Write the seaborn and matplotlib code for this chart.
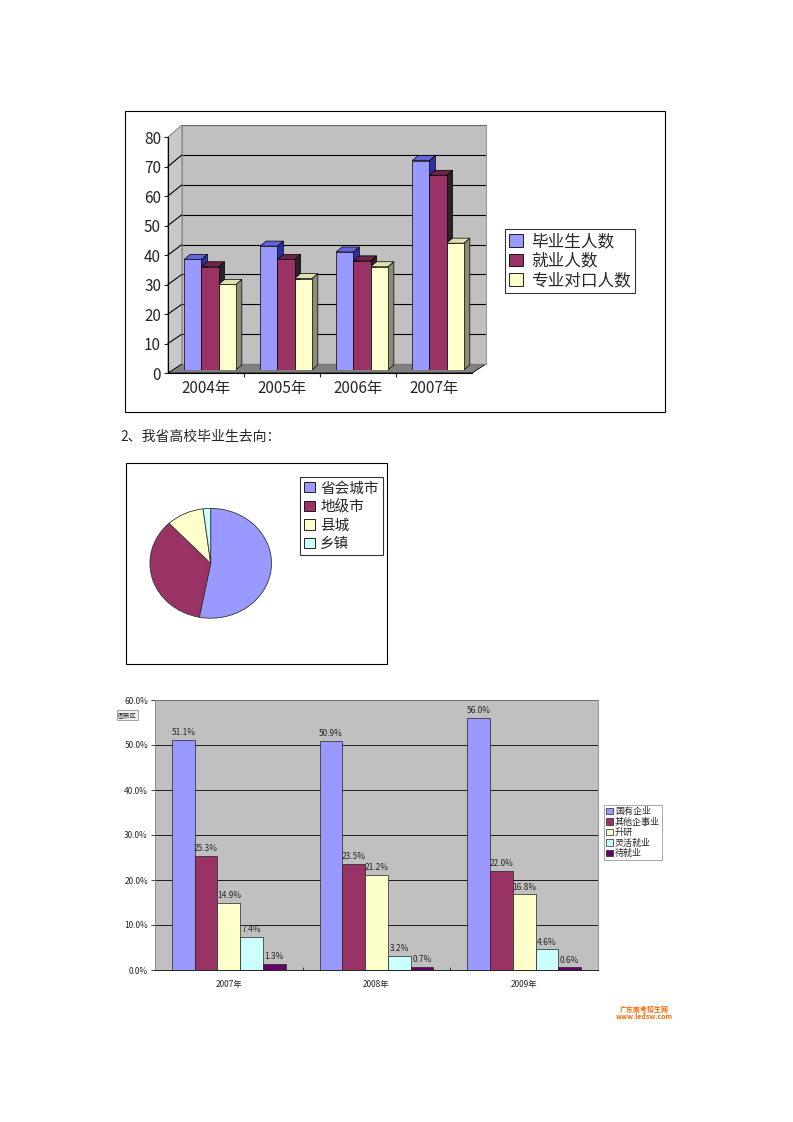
import matplotlib
matplotlib.use('Agg')
import matplotlib.pyplot as plt
from matplotlib.patches import Polygon, Rectangle, Patch
import pandas as pd
import seaborn as sns

# chart 1: graduates / employed / matched, by year
years1 = ['2004年', '2005年', '2006年', '2007年']
series1 = ['毕业生人数', '就业人数', '专业对口人数']
grad = [37.5, 42, 40, 71]
employed = [35, 37.5, 37, 66]
matched = [29, 31, 35, 43]

# chart 2: where graduates go
pie_labels = ['省会城市', '地级市', '县城', '乡镇']
pie_vals = [53, 35, 10, 2]

# chart 3: destination shares (%)
years3 = ['2007年', '2008年', '2009年']
series3 = ['国有企业', '其他企事业', '升研', '灵活就业', '待就业']
state = [51.1, 50.9, 56.0]
other = [25.3, 23.5, 22.0]
study = [14.9, 21.2, 16.8]
flex = [7.4, 3.2, 4.6]
wait = [1.3, 0.7, 0.6]

colors1 = ['#9999FF', '#993366', '#FFFFCC']
tops1 = ['#6464D8', '#6E2448', '#E2E2AE']
sides1 = ['#2E2EA0', '#2A2226', '#8C8C78']
colors2 = ['#9999FF', '#993366', '#FFFFCC', '#CCFFFF']
colors3 = ['#9999FF', '#993366', '#FFFFCC', '#CCFFFF', '#660066']

W, H = 793, 1122
sns.set_theme(style='white')
plt.rcParams['font.family'] = ['Noto Sans CJK SC', 'DejaVu Sans']
plt.rcParams['axes.unicode_minus'] = False

fig = plt.figure(figsize=(W / 100, H / 100), dpi=100)


def box(x0, y0, x1, y1):
    return [x0 / W, 1 - y1 / H, (x1 - x0) / W, (y1 - y0) / H]


# page-level layer in pixel coords
bg = fig.add_axes([0, 0, 1, 1])
bg.set_xlim(0, W)
bg.set_ylim(H, 0)
bg.axis('off')
bg.set_zorder(-5)

# ---------------- chart 1 ----------------
bg.add_patch(Rectangle((125, 111), 540, 301, fill=False, ec='black', lw=0.8))

axb = fig.add_axes(box(182, 125, 486, 364))
axb.set_facecolor('#C0C0C0')
axb.set_xlim(0, 1)
axb.set_ylim(0, 80)
axb.set_yticks(range(0, 81, 10))
axb.set_xticks([])
axb.tick_params(left=False, labelleft=False)
axb.grid(axis='y', color='black', lw=0.8)
for s in axb.spines.values():
    s.set_color('#808080')
    s.set_linewidth(0.6)

# side wall and floor
bg.add_patch(Polygon([(168, 137), (182, 125), (182, 364), (168, 373)],
                     fc='#C8C8C8', ec='#707070', lw=0.6))
for v in range(10, 80, 10):
    bg.plot([168, 182], [373 - v * 236 / 80, 364 - v * 239 / 80], color='black', lw=0.8)
bg.add_patch(Polygon([(168, 373), (472, 373), (486, 364), (182, 364)],
                     fc='#808080', ec='black', lw=0.6))

df1 = pd.DataFrame({'year': years1, series1[0]: grad, series1[1]: employed, series1[2]: matched})
df1 = df1.melt(id_vars='year', var_name='series', value_name='value')

axr = fig.add_axes(box(172, 134, 476, 370))
sns.barplot(data=df1, x='year', y='value', hue='series', hue_order=series1,
            palette=colors1, width=0.68, edgecolor='black', linewidth=0.5,
            saturation=1, legend=False, ax=axr)
axr.set_xlim(-0.5, 3.5)
axr.set_ylim(0, 80)
axr.axis('off')
axr.set_zorder(1)

dx = 6 / 76
dy = 5 / (236 / 80)
for cont, tc, sc in zip(axr.containers, tops1, sides1):
    for bar in cont:
        x0, w, h = bar.get_x(), bar.get_width(), bar.get_height()
        axr.add_patch(Polygon([(x0 + w, 0), (x0 + w + dx, dy), (x0 + w + dx, h + dy), (x0 + w, h)],
                              fc=sc, ec='black', lw=0.5, zorder=0.8, clip_on=False))
        axr.add_patch(Polygon([(x0, h), (x0 + w, h), (x0 + w + dx, h + dy), (x0 + dx, h + dy)],
                              fc=tc, ec='black', lw=0.5, zorder=0.8, clip_on=False))

axf = fig.add_axes(box(168, 137, 472, 373))
axf.patch.set_alpha(0)
axf.set_xlim(-0.5, 3.5)
axf.set_ylim(0, 80)
axf.set_yticks(range(0, 81, 10))
axf.set_xticks(range(4))
axf.set_xticklabels(years1)
axf.set_xticks([0.5, 1.5, 2.5], minor=True)
axf.tick_params(axis='x', which='major', length=0, pad=5, labelsize=11)
axf.tick_params(axis='x', which='minor', length=3, width=0.8, direction='out', bottom=True)
axf.tick_params(axis='y', length=3, width=0.8, direction='out', left=True, pad=2, labelsize=11)
axf.spines['top'].set_visible(False)
axf.spines['right'].set_visible(False)
for s in ['left', 'bottom']:
    axf.spines[s].set_color('black')
    axf.spines[s].set_linewidth(0.8)
axf.set_zorder(2)

leg1 = fig.legend(handles=[Patch(fc=c, ec='black', lw=0.6) for c in colors1], labels=series1,
                  loc='upper left', bbox_to_anchor=(505 / W, 1 - 229 / H), fontsize=12,
                  frameon=True, fancybox=False, edgecolor='black', borderaxespad=0,
                  handlelength=0.8, handleheight=0.8, labelspacing=0.15, borderpad=0.25,
                  handletextpad=0.5)
leg1.get_frame().set_linewidth(0.8)

# ---------------- chart 2 ----------------
bg.text(120, 437, '2、我省高校毕业生去向：', fontsize=10, va='center', ha='left')
bg.add_patch(Rectangle((126, 463), 261, 201, fill=False, ec='black', lw=0.8))

axp = fig.add_axes(box(148.7, 507.3, 272.7, 619.3))
axp.pie(pie_vals, colors=colors2, startangle=90, counterclock=False,
        wedgeprops=dict(edgecolor='#333333', linewidth=0.6))
axp.set_aspect('auto')
axp.set_xlim(-1.02, 1.02)
axp.set_ylim(-1.02, 1.02)

leg2 = fig.legend(handles=[Patch(fc=c, ec='black', lw=0.6) for c in colors2], labels=pie_labels,
                  loc='upper left', bbox_to_anchor=(300 / W, 1 - 477 / H), fontsize=10.5,
                  frameon=True, fancybox=False, edgecolor='black', borderaxespad=0,
                  handlelength=0.7, handleheight=0.7, labelspacing=0.3, borderpad=0.3,
                  handletextpad=0.4)
leg2.get_frame().set_linewidth(0.8)

# ---------------- chart 3 ----------------
df3 = pd.DataFrame({'year': years3, series3[0]: state, series3[1]: other, series3[2]: study,
                    series3[3]: flex, series3[4]: wait})
df3 = df3.melt(id_vars='year', var_name='series', value_name='value')

ax3 = fig.add_axes(box(155, 700, 598, 970))
ax3.set_facecolor('#C0C0C0')
sns.barplot(data=df3, x='year', y='value', hue='series', hue_order=series3,
            palette=colors3, width=0.77, edgecolor='#222222', linewidth=0.5,
            saturation=1, legend=False, ax=ax3)
ax3.set_xlim(-0.5, 2.5)
ax3.set_ylim(0, 60)
ax3.set_yticks(range(0, 61, 10))
ax3.set_yticklabels([f'{v:.1f}%' for v in range(0, 61, 10)])
ax3.set_axisbelow(True)
ax3.grid(axis='y', color='black', lw=0.6)
ax3.set_xlabel('')
ax3.set_ylabel('')
ax3.set_xticks([0.5, 1.5], minor=True)
ax3.tick_params(axis='x', which='major', length=0, pad=7, labelsize=6)
ax3.tick_params(axis='x', which='minor', length=2, width=0.6, direction='in', bottom=True)
ax3.tick_params(axis='y', length=3, width=0.6, direction='out', left=True, pad=2, labelsize=6)
for s in ax3.spines.values():
    s.set_color('#808080')
    s.set_linewidth(0.6)
ax3.spines['bottom'].set_color('black')
for cont in ax3.containers:
    ax3.bar_label(cont, labels=[f'{v:.1f}%' for v in cont.datavalues], fontsize=6, padding=2)

leg3 = fig.legend(handles=[Patch(fc=c, ec='#222222', lw=0.5) for c in colors3], labels=series3,
                  loc='upper left', bbox_to_anchor=(604 / W, 1 - 805 / H), fontsize=6.5,
                  frameon=True, fancybox=False, edgecolor='#808080', borderaxespad=0,
                  handlelength=0.7, handleheight=0.7, labelspacing=0.15, borderpad=0.25,
                  handletextpad=0.25)
leg3.get_frame().set_linewidth(0.6)

bg.text(118, 715, '图表区', fontsize=4.5, va='center', ha='left',
        bbox=dict(boxstyle='square,pad=0.2', fc='#F0F0F0', ec='#808080', lw=0.5))

bg.text(644, 1009, '广东高考招生网', fontsize=5, color='#FF6600', fontweight='bold',
        ha='center', va='center')
bg.text(644, 1016, 'www.ledsw.com', fontsize=5, color='#FF6600', fontweight='bold',
        ha='center', va='center')

fig.savefig('out.png', dpi=100, facecolor='white')
